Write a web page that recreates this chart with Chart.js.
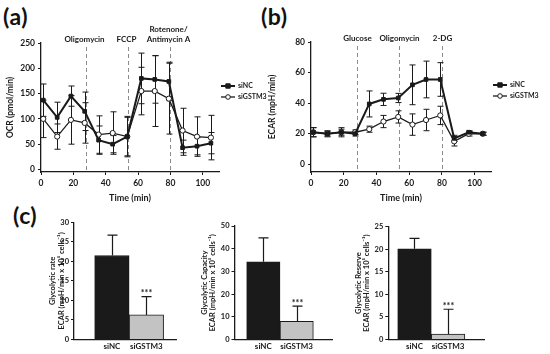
<!DOCTYPE html>
<html>
<head>
<meta charset="utf-8">
<script src="https://cdn.jsdelivr.net/npm/chart.js@4.4.1/dist/chart.umd.min.js"></script>
<style>
  body { margin: 0; width: 550px; height: 354px; background: #fff; position: relative; overflow: hidden; }
  canvas { position: absolute; }
  .tag { position: absolute; font: bold 23px Lato, sans-serif; line-height: 23px; color: #111; letter-spacing: 0.5px; }
</style>
</head>
<body>
<div class="tag" style="left:3px;top:5px">(a)</div>
<div class="tag" style="left:261px;top:5px">(b)</div>
<div class="tag" style="left:13px;top:204px">(c)</div>
<canvas id="ocr" width="278" height="205" style="left:0;top:0"></canvas>
<canvas id="ecar" width="288" height="205" style="left:262px;top:0"></canvas>
<canvas id="rate" width="140" height="144" style="left:40px;top:210px"></canvas>
<canvas id="capacity" width="148" height="144" style="left:190px;top:210px"></canvas>
<canvas id="reserve" width="150" height="144" style="left:345px;top:210px"></canvas>
<script>
// time course (Seahorse runs)
const minutes = [1.4, 10, 18.5, 27, 35.6, 44.3, 53.3, 62, 70.3, 79, 87.5, 96.4, 105];
const injectionTimes = [28, 54, 80];
const ocrDrugs = [["Oligomycin"], ["FCCP"], ["Rotenone/", "Antimycin A"]];
const ecarDrugs = [["Glucose"], ["Oligomycin"], ["2-DG"]];

const ocrNC = [137, 103, 145, 115, 58, 50, 65, 180, 178, 174, 43, 46, 52];
const ocrNCErr = [32, 30, 20, 38, 28, 17, 40, 50, 47, 38, 15, 17, 21];
const ocrGSTM3 = [100, 65, 98, 92, 69, 72, 65, 155, 155, 140, 77, 65, 63];
const ocrGSTM3Err = [37, 25, 48, 40, 37, 42, 38, 47, 70, 70, 44, 39, 44];

const ecarNC = [21, 20, 21, 20, 39.5, 42.5, 43.4, 52, 55.5, 55.5, 17, 21, 20];
const ecarNCErr = [3, 2, 2, 1.5, 8.5, 4, 3, 13, 12, 11, 2, 1, 1];
const ecarGSTM3 = [21, 20, 21, 21, 23, 28, 31, 26, 29, 32, 15, 20, 20];
const ecarGSTM3Err = [3, 1.5, 3, 1.5, 2, 4, 4, 7, 7, 6, 3, 1.5, 1];

// glycolysis stress test summary
const groups = ["siNC", "siGSTM3"];
const significance = ["", "***"];
const glycoRate = [21.5, 6.3];
const glycoRateErr = [5.2, 4.7];
const glycoCapacity = [34.2, 8.0];
const glycoCapacityErr = [10.6, 6.7];
const glycoReserve = [20.1, 1.2];
const glycoReserveErr = [2.3, 5.5];

Chart.defaults.font.family = "Lato, 'Liberation Sans', sans-serif";
Chart.defaults.font.weight = "bold";
Chart.defaults.color = "#1a1a1a";

const ink = "#1a1a1a";

const injections = {
    id: "injections",
    beforeDatasetsDraw(chart, args, opts) {
        const { ctx, chartArea: a, scales: { x } } = chart;
        ctx.save();
        ctx.strokeStyle = "#8c8c8c";
        ctx.lineWidth = 1;
        ctx.setLineDash([4, 3]);
        ctx.font = "bold 8px Lato, sans-serif";
        ctx.fillStyle = ink;
        ctx.textAlign = "center";
        ctx.textBaseline = "middle";
        opts.times.forEach((t, i) => {
            const px = Math.round(x.getPixelForValue(t)) + 0.5;
            ctx.beginPath();
            ctx.moveTo(px, a.top + 4);
            ctx.lineTo(px, a.bottom);
            ctx.stroke();
            const lines = opts.labels[i];
            lines.forEach((s, k) => {
                ctx.fillText(s, px + opts.dx, a.top - 4 - (lines.length - 1 - k) * 10);
            });
        });
        ctx.restore();
    }
};

function drawErrors(chart, opts) {
    const { ctx, scales: { y } } = chart;
    ctx.save();
    ctx.strokeStyle = ink;
    ctx.lineWidth = opts.width;
    chart.data.datasets.forEach((ds, i) => {
        const meta = chart.getDatasetMeta(i);
        meta.data.forEach((el, j) => {
            const raw = ds.data[j];
            const v = typeof raw === "object" ? raw.y : raw;
            const e = ds.errors[j];
            const px = Math.round(el.x) + 0.5;
            const top = y.getPixelForValue(v + e);
            const bot = opts.upOnly ? y.getPixelForValue(v) : y.getPixelForValue(v - e);
            ctx.beginPath();
            ctx.moveTo(px, top);
            ctx.lineTo(px, bot);
            ctx.moveTo(px - opts.cap, top);
            ctx.lineTo(px + opts.cap, top);
            if (!opts.upOnly) {
                ctx.moveTo(px - opts.cap, bot);
                ctx.lineTo(px + opts.cap, bot);
            }
            ctx.stroke();
            if (ds.marks && ds.marks[j]) {
                ctx.fillStyle = ink;
                ctx.font = "bold 9px Lato, sans-serif";
                ctx.textAlign = "center";
                ctx.textBaseline = "bottom";
                ctx.fillText(ds.marks[j], px, top + 1);
            }
        });
    });
    ctx.restore();
}

const errorBars = {
    id: "errorBars",
    beforeDatasetsDraw(chart, args, opts) { if (!opts.upOnly) drawErrors(chart, opts); },
    afterDatasetsDraw(chart, args, opts) { if (opts.upOnly) drawErrors(chart, opts); }
};

const seriesKey = {
    id: "seriesKey",
    afterDraw(chart, args, opts) {
        const { ctx, chartArea: a } = chart;
        ctx.save();
        ctx.font = "bold 7px Lato, sans-serif";
        ctx.textBaseline = "middle";
        chart.data.datasets.forEach((ds, i) => {
            const yy = opts.rows[i];
            const x0 = a.right + 2, x1 = a.right + 16;
            ctx.strokeStyle = ds.borderColor;
            ctx.lineWidth = ds.borderWidth;
            ctx.beginPath();
            ctx.moveTo(x0, yy);
            ctx.lineTo(x1, yy);
            ctx.stroke();
            const mx = (x0 + x1) / 2;
            ctx.fillStyle = ds.pointBackgroundColor;
            ctx.strokeStyle = ink;
            ctx.lineWidth = 1;
            ctx.beginPath();
            if (ds.pointStyle === "rect") ctx.rect(mx - 2.2, yy - 2.2, 4.4, 4.4);
            else ctx.arc(mx, yy, 2.3, 0, Math.PI * 2);
            ctx.fill();
            ctx.stroke();
            ctx.fillStyle = ink;
            ctx.fillText(ds.label, a.right + 19, yy);
        });
        ctx.restore();
    }
};

function series(label, values, errors, filled) {
    return {
        label: label,
        data: minutes.map((m, i) => ({ x: m, y: values[i] })),
        errors: errors,
        borderColor: ink,
        borderWidth: filled ? 2 : 1.3,
        pointStyle: filled ? "rect" : "circle",
        pointRadius: 2.6,
        pointBackgroundColor: filled ? ink : "#ffffff",
        pointBorderColor: ink,
        pointBorderWidth: 1,
        tension: 0
    };
}

function axisStyle() {
    return {
        grid: { drawOnChartArea: false, tickLength: 3, color: ink, lineWidth: 1 },
        border: { color: ink, width: 1.3 }
    };
}

function timeCourse(canvas, datasets, o) {
    return new Chart(canvas, {
        type: "line",
        data: { datasets: datasets },
        options: {
            responsive: false,
            animation: false,
            layout: { padding: { top: o.top, right: o.right } },
            plugins: {
                legend: { display: false },
                tooltip: { enabled: false },
                injections: { times: injectionTimes, labels: o.drugs, dx: o.dx },
                errorBars: { width: 1, cap: 3, upOnly: false },
                seriesKey: { rows: o.keyRows }
            },
            scales: {
                x: {
                    type: "linear", min: 0, max: 110,
                    ticks: { stepSize: 20, includeBounds: false, padding: 3, font: { size: 8.5 } },
                    title: { display: true, text: "Time (min)", font: { size: 9 }, padding: { top: 0, bottom: 2 } },
                    ...axisStyle(),
                    afterFit: s => { s.height = 33; }
                },
                y: {
                    min: -5, max: o.max,
                    ticks: { stepSize: o.step, includeBounds: false, padding: 3, font: { size: 8.5 } },
                    title: { display: true, text: o.title, font: { size: 8.5 }, padding: { top: o.titlePad, bottom: 0 } },
                    ...axisStyle(),
                    afterFit: s => { s.width = o.yWidth; }
                }
            }
        },
        plugins: [injections, errorBars, seriesKey]
    });
}

timeCourse(document.getElementById("ocr"), [
    series("siNC", ocrNC, ocrNCErr, true),
    series("siGSTM3", ocrGSTM3, ocrGSTM3Err, false)
], { top: 43, right: 59, max: 250, step: 50, title: "OCR (pmol/min)", titlePad: 5.5, yWidth: 41, drugs: ocrDrugs, dx: -2, keyRows: [86, 97] });

timeCourse(document.getElementById("ecar"), [
    series("siNC", ecarNC, ecarNCErr, true),
    series("siGSTM3", ecarGSTM3, ecarGSTM3Err, false)
], { top: 42, right: 59, max: 80, step: 20, title: "ECAR (mpH/min)", titlePad: 5, yWidth: 49, drugs: ecarDrugs, dx: 0, keyRows: [85, 96] });

function summary(canvas, name, values, errors, o) {
    return new Chart(canvas, {
        type: "bar",
        data: {
            datasets: [{
                data: groups.map((g, i) => ({ x: i + 1, y: values[i] })),
                errors: errors,
                marks: significance,
                backgroundColor: [ink, "#c3c3c3"],
                borderColor: ink,
                borderWidth: 1,
                barPercentage: 1,
                categoryPercentage: 1
            }]
        },
        options: {
            responsive: false,
            animation: false,
            layout: { padding: { top: o.top, right: o.right } },
            plugins: {
                legend: { display: false },
                tooltip: { enabled: false },
                errorBars: { width: 1.2, cap: 5, upOnly: true }
            },
            scales: {
                x: {
                    type: "linear", min: o.xmin, max: o.xmax, offset: false,
                    afterBuildTicks: s => { s.ticks = groups.map((g, i) => ({ value: i + 1 })); },
                    ticks: { padding: 2, font: { size: 8 }, autoSkip: false, maxRotation: 0, callback: v => groups[v - 1] },
                    grid: { drawOnChartArea: false, drawTicks: false, offset: false },
                    border: { display: true, color: ink, width: 1.3 },
                    afterFit: s => { s.height = 14.5; }
                },
                y: {
                    min: 0, max: o.max,
                    ticks: { stepSize: o.step, padding: 2, font: { size: 7.5 } },
                    title: {
                        display: true,
                        text: [name, "ECAR (mpH/min x 10\u2075 cells\u207B\u00B9)"],
                        font: { size: 7.5, lineHeight: 1.1 },
                        padding: { top: o.titlePad, bottom: 0 }
                    },
                    grid: { drawOnChartArea: false, tickLength: 3, color: ink },
                    border: { color: ink, width: 1.3 },
                    afterFit: s => { s.width = o.yWidth; }
                }
            }
        },
        plugins: [errorBars]
    });
}

summary(document.getElementById("rate"), "Glycolytic rate", glycoRate, glycoRateErr,
    { top: 12.3, right: 4, xmin: -0.10, xmax: 2.86, max: 30, step: 5, yWidth: 34, titlePad: 8.8 });
summary(document.getElementById("capacity"), "Glycolytic Capacity", glycoCapacity, glycoCapacityErr,
    { top: 16, right: 6, xmin: 0.135, xmax: 3.06, max: 50, step: 10, yWidth: 44.5, titlePad: 10.6 });
summary(document.getElementById("reserve"), "Glycolytic Reserve", glycoReserve, glycoReserveErr,
    { top: 16.7, right: 11, xmin: 0.22, xmax: 3.07, max: 25, step: 5, yWidth: 43.3, titlePad: 9.6 });
</script>
</body>
</html>
